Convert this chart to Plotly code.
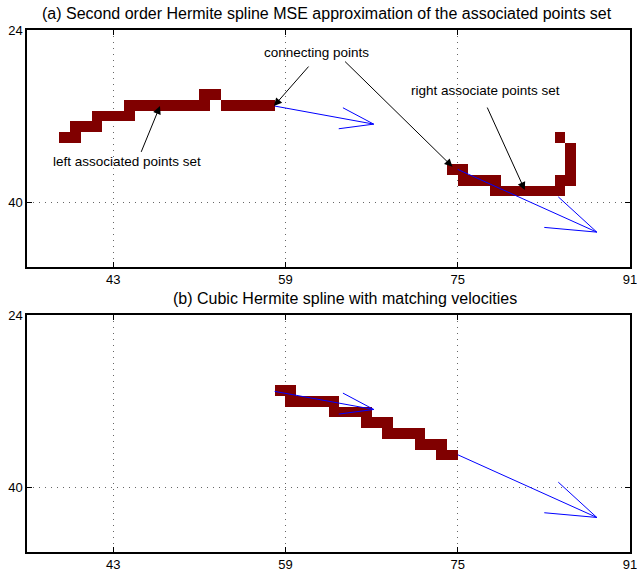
import plotly.graph_objects as go

# ---------------- data ----------------
X_RANGE = [35, 91]
Y_RANGE = [46, 24]
X_TICKS = [43, 59, 75, 91]
Y_TICKS = [24, 40]

# occupied cells, as horizontal runs: row, first column edge, last column edge
TOP_ROW = [34, 33, 32, 31, 31, 30, 37, 38, 39, 38, 37, 36, 35, 34]
TOP_X0 = [38, 39, 41, 44, 53, 51, 74, 75, 78, 84, 85, 85, 85, 84]
TOP_X1 = [40, 42, 45, 52, 58, 53, 76, 79, 85, 86, 86, 86, 86, 85]

BOT_ROW = [31, 32, 33, 34, 35, 36, 37]
BOT_X0 = [58, 59, 63, 66, 68, 71, 73]
BOT_X1 = [60, 64, 67, 69, 72, 74, 75]

# velocity arrows (quiver)
ARROW_TAIL_X = [58.0, 75.0]
ARROW_TAIL_Y = [31.07, 36.96]
ARROW_TIP_X = [67.2, 87.92]
ARROW_TIP_Y = [32.75, 42.79]
BARB_UP_X = [64.34, 84.34]
BARB_UP_Y = [31.23, 39.51]
BARB_LO_X = [63.95, 83.04]
BARB_LO_Y = [33.18, 42.35]

# text labels in the top panel
ANN_TEXT = ["connecting points", "right associate points set", "left associated points set"]
ANN_X = [61.85, 77.62, 44.25]
ANN_Y = [26.05, 29.65, 36.19]
PTR_TAIL_X = [61.27, 64.4, 77.68, 45.55]
PTR_TAIL_Y = [27.26, 26.8, 31.07, 35.47]
PTR_TIP_X = [57.93, 74.52, 81.23, 47.35]
PTR_TIP_Y = [31.07, 36.72, 38.88, 31.07]

TITLES = ["(a) Second order Hermite spline MSE approximation of the associated points set",
          "(b) Cubic Hermite spline with matching velocities"]

FONT = "Liberation Sans, Arial, Helvetica, sans-serif"
CELL_COLOR = "#800000"


def grid(rows, x0s, x1s):
    xs = [X_RANGE[0] + 0.5 + i for i in range(X_RANGE[1] - X_RANGE[0])]
    ys = list(range(Y_RANGE[1], Y_RANGE[0] + 1))
    z = [[None] * len(xs) for _ in ys]
    for r, a, b in zip(rows, x0s, x1s):
        for c in range(a, b):
            z[ys.index(r)][c - X_RANGE[0]] = 1
    return xs, ys, z


def quiver_xy():
    xs, ys = [], []
    for i in range(len(ARROW_TAIL_X)):
        xs += [ARROW_TAIL_X[i], ARROW_TIP_X[i], None,
               BARB_UP_X[i], ARROW_TIP_X[i], BARB_LO_X[i], None]
        ys += [ARROW_TAIL_Y[i], ARROW_TIP_Y[i], None,
               BARB_UP_Y[i], ARROW_TIP_Y[i], BARB_LO_Y[i], None]
    return xs, ys


fig = go.Figure()
for k, (rows, x0s, x1s) in enumerate([(TOP_ROW, TOP_X0, TOP_X1), (BOT_ROW, BOT_X0, BOT_X1)]):
    xa = "x" if k == 0 else "x2"
    ya = "y" if k == 0 else "y2"
    gx, gy, gz = grid(rows, x0s, x1s)
    fig.add_trace(go.Heatmap(x=gx, y=gy, z=gz, zmin=0, zmax=1,
                             colorscale=[[0, CELL_COLOR], [1, CELL_COLOR]],
                             showscale=False, hoverinfo="skip", xaxis=xa, yaxis=ya))
    qx, qy = quiver_xy()
    fig.add_trace(go.Scatter(x=qx, y=qy, mode="lines",
                             line=dict(color="#0000ff", width=1),
                             hoverinfo="skip", showlegend=False, xaxis=xa, yaxis=ya))

axis_common = dict(showgrid=True, gridcolor="#666666", griddash="1px,5px", gridwidth=1,
                   showline=True, linecolor="black", linewidth=1.5, mirror="ticks",
                   ticks="inside", ticklen=5, tickcolor="black", zeroline=False,
                   automargin=False, ticklabeloverflow="allow",
                   tickfont=dict(family=FONT, size=13, color="black"))

annotations = []
for t, x, y in zip(ANN_TEXT, ANN_X, ANN_Y):
    annotations.append(dict(text=t, x=x, y=y, xref="x", yref="y", showarrow=False,
                            xanchor="center", yanchor="middle",
                            font=dict(family=FONT, size=13.5, color="black")))
for tx, ty, hx, hy in zip(PTR_TAIL_X, PTR_TAIL_Y, PTR_TIP_X, PTR_TIP_Y):
    annotations.append(dict(text="", x=hx, y=hy, ax=tx, ay=ty, xref="x", yref="y",
                            axref="x", ayref="y", showarrow=True, arrowhead=2,
                            arrowsize=1.6, arrowwidth=1, arrowcolor="black", standoff=0))
annotations.append(dict(text=TITLES[0], x=0.4975, y=1.0307, xref="paper", yref="paper",
                        showarrow=False, xanchor="center", yanchor="middle",
                        font=dict(family=FONT, size=16, color="black")))
annotations.append(dict(text=TITLES[1], x=0.528, y=0.4847, xref="paper", yref="paper",
                        showarrow=False, xanchor="center", yanchor="middle",
                        font=dict(family=FONT, size=16, color="black")))

fig.update_layout(
    template="none",
    width=637, height=575,
    margin=dict(l=27, r=7, t=30, b=23),
    paper_bgcolor="white", plot_bgcolor="white",
    showlegend=False,
    xaxis=dict(domain=[0, 1], anchor="y", range=X_RANGE, tickvals=X_TICKS, **axis_common),
    yaxis=dict(domain=[0.5466, 1], anchor="x", range=Y_RANGE, tickvals=Y_TICKS, **axis_common),
    xaxis2=dict(domain=[0, 1], anchor="y2", range=X_RANGE, tickvals=X_TICKS, **axis_common),
    yaxis2=dict(domain=[0, 0.4534], anchor="x2", range=Y_RANGE, tickvals=Y_TICKS, **axis_common),
    annotations=annotations,
)

# remove the browser's default page margin so the figure fills the window exactly
fig.write_html("out.html", config={"displayModeBar": False},
               post_script="document.body.style.margin='0';document.body.style.overflow='hidden';")
